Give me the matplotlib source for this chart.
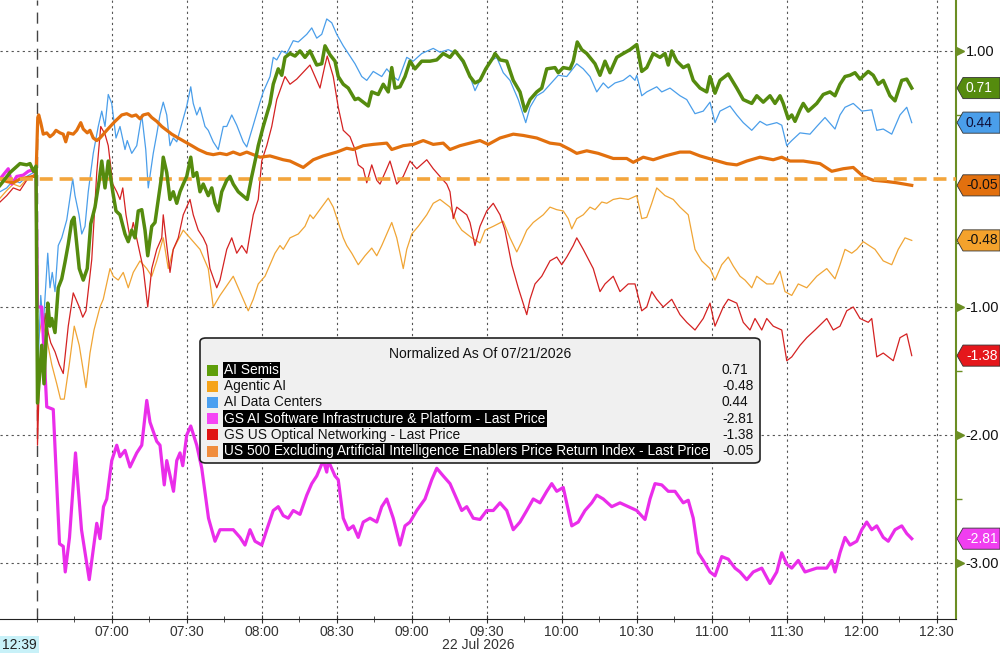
import matplotlib
matplotlib.use("Agg")
import matplotlib.pyplot as plt
import matplotlib.dates as mdates
import matplotlib.transforms as mtransforms
from matplotlib.patches import Polygon, FancyBboxPatch, Rectangle
import pandas as pd

plt.rcParams["font.family"] = ["Liberation Sans", "DejaVu Sans"]

# minutes after the 06:30 open, values normalized as of 07/21/2026
semis_t = [-14.7, -10.7, -6.7, -4, -2.7, -1.3, -0.3, 0.3, 2, 2.9, 4.4, 5.3, 6, 7.3, 8.6, 10, 11.3, 12.6, 14, 14.9,
           17, 18.6, 20.2, 21.6, 23.3, 25, 26, 27.3, 28.6, 30.4, 31.7, 33.3, 35.3, 36.6, 38, 39.3, 40.6, 42, 43.3, 44.4,
           46, 47.3, 48.6, 50, 50.6, 52, 53.3, 54.6, 56, 57.3, 58.6, 60, 61.6, 62.6, 64, 65.3, 66.6, 68.6, 70, 71.3,
           72.6, 74, 76, 77.3, 78.6, 80.6, 84.2, 86, 88, 88.6, 90.6, 93.3, 94.6, 96.6, 98, 99.3, 101.3, 103.3, 105.3,
           107.3, 109.3, 112, 114, 115.3, 117.3, 119.3, 120.6, 122.6, 124.6, 127.3, 128.6, 132.6, 134, 136.6, 138.6,
           140.6, 142, 143.3, 145.3, 147.3, 149.3, 151.3, 154, 157.3, 160, 162.6, 165.3, 167.3, 170.6, 173.3, 175.3,
           177.3, 179.6, 182.6, 183.3, 185.3, 188, 190.6, 193.3, 195.3, 197.3, 200, 202, 204, 207.3, 208.6, 210.6,
           213.3, 214.6, 216.2, 218, 220, 223.3, 225.3, 227.3, 229.3, 232, 234.6, 237.3, 240, 242, 244, 246.6, 249.3,
           251.3, 252.6, 254, 256, 258.6, 260.6, 262.6, 265.3, 268, 269.3, 271.3, 273.3, 276.6, 280, 282.6, 286, 288,
           290.6, 293.3, 295.3, 297.3, 298.6, 300.6, 302, 303.3, 305.3, 306.6, 308.6, 312, 314.6, 317.3, 319.3, 321.3,
           323.3, 325.3, 327.3, 329.3, 332.6, 334.6, 336.6, 338.6, 341.3, 343.3, 346, 348, 350]
semis_v = [-0.05, 0.05, 0.12, 0.11, 0.12, 0.06, 0.1, -1.75, -1.3, -1.6, -0.97, -1.15, -1.09, -1.2, -0.85, -0.78, -0.65,
           -0.51, -0.33, -0.3, -0.7, -0.79, -0.7, -0.35, -0.22, -0.01, 0.14, -0.07, 0.14, -0.1, -0.25, -0.28, -0.43,
           -0.49, -0.4, -0.46, -0.25, -0.24, -0.4, -0.6, -0.37, -0.34, -0.16, 0.03, 0.17, 0.05, -0.16, -0.1, -0.19,
           -0.1, -0.04, 0.02, 0.17, 0.02, 0.05, -0.1, -0.04, -0.13, -0.07, -0.19, -0.25, -0.1, -0.01, 0.02, -0.04,
           -0.1, -0.16, 0.02, 0.2, 0.26, 0.41, 0.59, 0.74, 0.86, 0.81, 0.95, 0.98, 0.96, 1.0, 0.95, 1.0, 0.89, 0.9,
           1.04, 0.97, 0.92, 0.8, 0.74, 0.71, 0.62, 0.63, 0.57, 0.68, 0.66, 0.74, 0.68, 0.87, 0.71, 0.72, 0.8, 0.92,
           0.86, 0.92, 0.92, 0.93, 0.98, 0.95, 1.0, 0.92, 0.8, 0.75, 0.77, 0.86, 0.95, 0.98, 0.93, 0.92, 0.77, 0.68,
           0.53, 0.62, 0.68, 0.71, 0.86, 0.87, 0.83, 0.87, 0.86, 0.92, 1.07, 1.01, 0.98, 0.9, 0.81, 0.92, 0.83, 0.95,
           0.98, 1.01, 1.05, 0.84, 0.87, 0.98, 0.95, 0.98, 0.89, 1.0, 0.92, 0.87, 0.89, 0.77, 0.71, 0.68, 0.8, 0.67,
           0.77, 0.82, 0.71, 0.62, 0.59, 0.65, 0.6, 0.65, 0.59, 0.65, 0.59, 0.47, 0.5, 0.45, 0.54, 0.59, 0.53, 0.59,
           0.66, 0.68, 0.65, 0.74, 0.8, 0.81, 0.83, 0.78, 0.84, 0.81, 0.74, 0.77, 0.65, 0.61, 0.77, 0.78, 0.71]

agentic_t = [-14.7, -12, -9.4, -6.7, -4, -1.3, -0.3, 0.3, 2, 4, 6, 8, 9.5, 11, 13, 15, 17, 19.7, 21.3, 22.9, 25.3,
             26.6, 29.3, 30.6, 32.6, 34.6, 36.6, 38.6, 41.3, 44, 46, 48, 50.6, 52.6, 54.6, 58.6, 62.6, 65.3, 68.6,
             70.6, 73.3, 78.6, 82.6, 84.6, 86.6, 88.6, 91.3, 93.3, 95.3, 97.3, 98.6, 101.3, 104.6, 107.3, 109.3,
             110.6, 114, 116.6, 118.6, 120.6, 122.6, 124, 126, 128.6, 131.3, 134, 136, 138, 140, 142, 144, 145.3,
             146.6, 148, 150, 152.6, 156, 158.6, 161.3, 165.3, 168, 170, 174, 177.3, 179.3, 182.6, 186.6, 189.3, 192,
             194, 196, 198.6, 202.6, 205.3, 208, 210.6, 212.6, 214, 216, 218.6, 221.3, 223.3, 226, 228, 230.6, 233.3,
             236.6, 240, 242, 244, 246, 248, 251.3, 254.6, 257.3, 260.6, 263.3, 266, 269.3, 271.3, 274, 276.6, 278.6,
             281.3, 283.3, 286, 288, 292, 294.6, 297.3, 299.3, 302, 304.6, 308, 312, 316, 319.3, 321.3, 323.3, 326,
             328, 330.6, 335.3, 338.6, 342, 344.6, 347.3, 350]
agentic_v = [-0.15, -0.09, -0.04, -0.06, 0.0, 0.03, 0.03, -1.3, -1.1, -1.25, -1.45, -1.6, -1.72, -1.72, -1.45, -1.15,
             -1.3, -1.63, -1.36, -1.18, -1.0, -0.94, -0.7, -0.76, -0.79, -0.73, -0.85, -0.73, -0.64, -0.7, -0.76,
             -0.64, -0.46, -0.7, -0.55, -0.4, -0.49, -0.55, -0.7, -1.0, -0.91, -0.76, -0.94, -1.03, -0.94, -0.82,
             -0.76, -0.67, -0.58, -0.52, -0.55, -0.46, -0.43, -0.37, -0.28, -0.31, -0.22, -0.15, -0.22, -0.34, -0.46,
             -0.52, -0.58, -0.67, -0.6, -0.54, -0.6, -0.52, -0.43, -0.34, -0.46, -0.58, -0.7, -0.55, -0.43, -0.37,
             -0.28, -0.19, -0.16, -0.22, -0.34, -0.4, -0.46, -0.5, -0.4, -0.37, -0.33, -0.46, -0.57, -0.49, -0.4,
             -0.34, -0.28, -0.22, -0.24, -0.25, -0.31, -0.39, -0.31, -0.28, -0.22, -0.24, -0.18, -0.19, -0.16, -0.15,
             -0.16, -0.13, -0.31, -0.3, -0.19, -0.07, -0.13, -0.16, -0.22, -0.28, -0.55, -0.64, -0.7, -0.79, -0.67,
             -0.61, -0.68, -0.76, -0.79, -0.85, -0.76, -0.82, -0.82, -0.72, -0.88, -0.91, -0.82, -0.85, -0.76, -0.7,
             -0.78, -0.67, -0.55, -0.58, -0.55, -0.49, -0.55, -0.64, -0.67, -0.55, -0.46, -0.48]

centers_t = [-14.7, -12, -9.4, -6.7, -4, -1.3, -0.3, 0.3, 1.6, 2.6, 4.4, 5.3, 6.2, 7.3, 8.6, 10, 12, 14.4, 15.3, 16.9,
             18, 19.3, 20.6, 22.6, 24.6, 26, 27.3, 28.6, 30, 31.7, 33.3, 35.3, 36.2, 38, 40, 42, 43.6, 44.6, 46.6, 48,
             49.3, 50.6, 52, 53.3, 54.6, 56, 58.6, 60, 61.6, 62.6, 64, 65.3, 67.3, 68.6, 70.6, 72.6, 74.6, 76, 78, 80,
             82.6, 84, 86.6, 89.3, 90.6, 93.3, 94.6, 96, 98, 100, 102.6, 104.6, 108, 110, 112, 114, 116, 118, 120,
             122.6, 125.3, 127.3, 130, 132, 134.6, 138, 140, 142.6, 144.6, 148, 150.6, 154, 158.6, 161.3, 164.6, 168,
             170.6, 173.3, 175.3, 177.3, 181.3, 184, 186.6, 189.3, 192.6, 195.6, 197.3, 200, 202.6, 208.6, 212, 216,
             218.6, 221.3, 224, 226.6, 228.6, 231.3, 234.6, 237.3, 239.3, 240, 242, 244, 248, 250, 253.3, 257.3, 260,
             263.3, 266.6, 269.3, 271.3, 273.3, 277.3, 280, 282.6, 286, 289.3, 292, 296, 298, 300, 302, 305.3, 309.3,
             312, 315.3, 319.3, 321.3, 323.3, 326.6, 330, 334, 336, 338.6, 342, 345.3, 348, 350]
centers_v = [-0.1, -0.07, -0.01, -0.03, 0.02, 0.05, 0.05, -1.58, -0.91, -1.15, -0.58, -0.85, -0.73, -0.88, -0.52,
             -0.46, -0.32, 0.0, -0.13, -0.28, -0.43, -0.37, -0.1, 0.2, 0.41, 0.53, 0.41, 0.66, 0.59, 0.32, 0.41, 0.23,
             0.3, 0.2, 0.26, 0.5, 0.23, -0.07, 0.2, 0.35, 0.5, 0.6, 0.5, 0.26, 0.32, 0.29, 0.47, 0.57, 0.72, 0.59, 0.5,
             0.56, 0.41, 0.38, 0.29, 0.23, 0.41, 0.41, 0.5, 0.42, 0.29, 0.25, 0.42, 0.6, 0.68, 0.8, 0.95, 0.93, 1.0,
             0.98, 1.08, 1.07, 1.13, 1.18, 1.1, 1.13, 1.25, 1.22, 1.13, 1.04, 0.96, 0.9, 0.8, 0.77, 0.84, 0.8, 0.86,
             0.8, 0.77, 0.95, 0.92, 0.98, 1.02, 0.99, 1.01, 0.98, 0.9, 0.8, 0.69, 0.77, 0.92, 0.95, 0.83, 0.77, 0.62,
             0.44, 0.56, 0.65, 0.68, 0.81, 0.8, 0.9, 0.86, 0.8, 0.68, 0.75, 0.71, 0.75, 0.77, 0.81, 0.77, 0.81, 0.65,
             0.68, 0.72, 0.68, 0.71, 0.65, 0.62, 0.51, 0.53, 0.6, 0.44, 0.53, 0.57, 0.5, 0.44, 0.38, 0.45, 0.42, 0.44,
             0.42, 0.26, 0.3, 0.36, 0.35, 0.41, 0.48, 0.39, 0.5, 0.56, 0.59, 0.53, 0.54, 0.38, 0.39, 0.35, 0.5, 0.56,
             0.44]

software_t = [-14.7, -11.4, -10, -8, -5.4, -3.4, -2, -0.7, -0.3, 0.3, 2, 4, 6.6, 9.1, 10.6, 11.4, 13.1, 15.5, 17.9,
              21, 24, 25.3, 26.7, 28, 30, 32, 33.3, 35.3, 37.3, 40, 42, 44, 45.3, 48, 49.3, 51, 52, 54.7, 56, 57.3,
              58.4, 60, 61.6, 64, 66, 68.7, 71.3, 73.3, 76, 78.6, 81.3, 83.3, 85.3, 87.3, 90, 92, 94.6, 96.6, 98.6,
              100.6, 102.6, 105.3, 108, 110, 112, 114.6, 116, 116.6, 119.3, 120.6, 122.6, 124.6, 126.6, 128.6, 130.6,
              133.3, 136, 138, 140, 142.6, 145.3, 147.3, 149.3, 152, 155.3, 158, 160, 162.6, 165.3, 168, 170, 172,
              174.6, 177.3, 180, 182.6, 185.3, 188, 190.6, 193.3, 196, 198.6, 201.3, 204, 206, 208, 210.6, 214, 216.6,
              219.3, 222, 224, 226.6, 230, 233.3, 236.6, 240, 243.3, 245.3, 247.3, 250, 252.6, 255.3, 258.6, 260.6,
              262.6, 264.6, 266.6, 269.3, 271.3, 274, 276.6, 279.3, 281.3, 284, 286.6, 290, 293.3, 296, 298, 300, 302,
              304.6, 307.3, 312, 316, 318, 319.3, 321.3, 323.3, 325.3, 328, 330, 332, 334, 336, 338.6, 340.6, 343.3,
              346, 348, 350]
software_v = [0.0, 0.08, -0.04, 0.02, 0.03, 0.06, 0.07, 0.05, 0.05, -1.0, -1.0, -1.78, -1.8, -2.85, -2.87, -3.07,
              -2.8, -2.14, -2.74, -3.13, -2.69, -2.81, -2.56, -2.5, -2.2, -2.08, -2.17, -2.12, -2.25, -2.14, -2.08,
              -1.73, -1.9, -2.05, -2.08, -2.39, -2.2, -2.44, -2.2, -2.14, -2.24, -2.0, -1.93, -2.08, -2.26, -2.65,
              -2.83, -2.74, -2.74, -2.74, -2.8, -2.86, -2.74, -2.83, -2.86, -2.74, -2.59, -2.56, -2.63, -2.65, -2.59,
              -2.62, -2.47, -2.38, -2.32, -2.2, -2.29, -2.2, -2.32, -2.35, -2.65, -2.74, -2.71, -2.8, -2.68, -2.65,
              -2.68, -2.56, -2.5, -2.65, -2.86, -2.71, -2.68, -2.59, -2.5, -2.35, -2.26, -2.32, -2.38, -2.5, -2.59,
              -2.56, -2.65, -2.66, -2.59, -2.59, -2.53, -2.59, -2.74, -2.68, -2.59, -2.5, -2.53, -2.44, -2.38, -2.44,
              -2.41, -2.71, -2.68, -2.59, -2.53, -2.47, -2.5, -2.56, -2.53, -2.56, -2.59, -2.66, -2.5, -2.38, -2.39,
              -2.44, -2.44, -2.53, -2.51, -2.65, -2.92, -2.98, -3.07, -3.1, -2.95, -2.97, -3.04, -3.07, -3.13, -3.07,
              -3.04, -3.16, -3.07, -2.92, -3.01, -3.04, -2.98, -3.07, -3.04, -3.04, -2.98, -3.07, -2.92, -2.8, -2.86,
              -2.83, -2.74, -2.68, -2.74, -2.71, -2.8, -2.83, -2.74, -2.71, -2.77, -2.81]

optical_t = [-14.7, -12, -9.4, -6.7, -4, -1.3, -0.3, 0.3, 1, 3.3, 4.6, 5.6, 7.3, 9, 10.6, 12.6, 14.6, 17, 18.4, 19.7,
             22, 24, 25.6, 27.3, 28.6, 30.4, 32, 33.3, 34.4, 35.7, 37.3, 38.6, 40.6, 42.6, 44.4, 46, 48, 50, 50.6, 52,
             53.3, 54.6, 56.6, 58.6, 61.3, 62.6, 64.6, 66.6, 68, 69.3, 72, 73.3, 76, 78, 80, 82, 84, 86.6, 88.6, 90,
             92, 94, 96, 99.3, 101.3, 104, 109.3, 111.3, 113.3, 115.3, 116.2, 118.6, 120.6, 122.6, 125.3, 127.3, 128.6,
             130.6, 132, 134, 136, 137.3, 140, 141.3, 144, 146.6, 149.3, 152, 156, 158.6, 162.6, 164, 165.3, 166.6,
             168, 172, 173.3, 175.3, 177.3, 180, 182.6, 185.3, 187.3, 190, 192.6, 196, 197.3, 199.3, 202, 205.3, 208,
             210, 212, 214.6, 216, 218.6, 222.6, 225.3, 227.3, 230.6, 233.3, 236.6, 239.3, 242, 244, 246, 248, 250.6,
             254, 257.3, 260, 263.3, 266.6, 269.3, 271.3, 274.6, 276.6, 280, 282.6, 285.3, 287.3, 290, 292, 294.6,
             298, 300, 302, 305.3, 308, 311.3, 316, 318.6, 321.3, 324, 326.6, 329.3, 332.6, 334, 336, 338.6, 342.6,
             345.3, 348, 350]
optical_v = [-0.18, -0.13, -0.07, -0.09, -0.01, 0.03, 0.03, -2.08, -1.6, -1.05, -1.2, -1.28, -1.35, -1.45, -1.52,
             -1.15, -0.89, -1.0, -1.08, -1.03, -0.63, 0.05, 0.41, 0.35, 0.26, -0.04, -0.1, -0.16, -0.07, -0.28, -0.46,
             -0.34, -0.52, -0.7, -1.0, -0.7, -0.55, -0.46, -0.28, -0.52, -0.73, -0.55, -0.46, -0.28, -0.16, -0.28,
             -0.4, -0.46, -0.52, -0.7, -0.85, -0.79, -0.55, -0.46, -0.58, -0.52, -0.58, -0.28, -0.16, 0.14, 0.26, 0.41,
             0.62, 0.8, 0.74, 0.78, 0.89, 0.8, 0.71, 0.89, 0.96, 0.8, 0.56, 0.38, 0.33, 0.23, 0.11, 0.08, -0.03, 0.11,
             -0.01, -0.04, 0.08, 0.14, -0.04, 0.02, 0.14, 0.08, 0.15, 0.08, -0.01, -0.04, -0.1, -0.31, -0.22, -0.28,
             -0.34, -0.52, -0.37, -0.25, -0.19, -0.28, -0.4, -0.67, -0.85, -1.06, -0.94, -0.82, -0.76, -0.64, -0.61,
             -0.67, -0.61, -0.52, -0.46, -0.55, -0.7, -0.88, -0.82, -0.76, -0.88, -0.82, -0.82, -1.03, -1.0, -0.88,
             -0.94, -1.0, -0.94, -1.06, -1.12, -1.18, -1.09, -0.97, -1.15, -1.0, -0.94, -0.97, -1.12, -1.18, -1.09,
             -1.18, -1.09, -1.15, -1.18, -1.42, -1.39, -1.3, -1.24, -1.18, -1.09, -1.18, -1.15, -1.03, -1.0, -1.09,
             -1.12, -1.09, -1.39, -1.36, -1.42, -1.24, -1.21, -1.38]

exai_t = [-14.7, -12, -9.4, -6.7, -4, -1.3, -0.3, 0.4, 0.8, 1.6, 2.6, 4, 5.3, 6.6, 7.7, 9.3, 10.6, 11.6, 12.6, 14.6,
          16, 17.6, 18.6, 20.2, 21.3, 22.6, 24, 25.3, 28, 31.3, 34, 36, 38, 39.7, 41.3, 42.6, 44.6, 46, 48, 50, 52,
          54, 56.6, 59.3, 62, 64.6, 68, 70.6, 73.3, 76, 78.6, 81.3, 84, 86.6, 89.3, 93.3, 98.6, 101.3, 106.6, 110.6,
          114.6, 120, 124, 126.6, 130.6, 134.6, 140, 142, 146.6, 150.6, 154.6, 158.6, 162.6, 165.3, 169.3, 173.3,
          177.3, 180.6, 185.3, 190.6, 194.6, 200, 205.3, 209.3, 213.3, 216, 220, 224.6, 230.6, 236, 238.6, 242.6,
          246.6, 251.3, 257.3, 261.3, 265.3, 270.6, 276, 280, 284, 289.3, 294.6, 298, 301.3, 306.6, 313.3, 318,
          322.6, 326.6, 330.6, 334.6, 340, 344, 350]
exai_v = [0.0, -0.02, -0.03, 0.0, 0.01, 0.02, 0.02, 0.48, 0.5, 0.44, 0.35, 0.36, 0.33, 0.35, 0.38, 0.36, 0.35, 0.29,
          0.36, 0.35, 0.38, 0.44, 0.39, 0.36, 0.38, 0.32, 0.3, 0.32, 0.38, 0.45, 0.5, 0.51, 0.49, 0.5, 0.47, 0.5,
          0.51, 0.48, 0.45, 0.41, 0.38, 0.35, 0.32, 0.29, 0.26, 0.23, 0.2, 0.19, 0.2, 0.19, 0.21, 0.19, 0.21, 0.19,
          0.17, 0.18, 0.15, 0.14, 0.09, 0.15, 0.18, 0.21, 0.24, 0.23, 0.26, 0.27, 0.28, 0.23, 0.26, 0.27, 0.3, 0.27,
          0.28, 0.23, 0.26, 0.28, 0.3, 0.27, 0.32, 0.35, 0.34, 0.32, 0.28, 0.27, 0.23, 0.2, 0.22, 0.2, 0.16, 0.16,
          0.13, 0.17, 0.15, 0.18, 0.21, 0.21, 0.18, 0.15, 0.12, 0.11, 0.14, 0.17, 0.15, 0.17, 0.14, 0.14, 0.12, 0.06,
          0.08, 0.09, 0.02, -0.01, -0.02, -0.03, -0.05]

names = ["AI Semis", "Agentic AI", "AI Data Centers", "GS AI Software Infrastructure & Platform - Last Price",
         "GS US Optical Networking - Last Price",
         "US 500 Excluding Artificial Intelligence Enablers Price Return Index - Last Price"]
last_values = ["0.71", "-0.48", "0.44", "-2.81", "-1.38", "-0.05"]
y_ticks = [1, -1, -2, -3]
y_tick_labels = ["1.00", "-1.00", "-2.00", "-3.00"]

base = pd.Timestamp("2026-07-22 06:30")


def to_time(minutes):
    return base + pd.to_timedelta(minutes, unit="min")


GREEN = "#558B0E"
AGENTIC = "#F0A535"
BLUE = "#4A9EEA"
PINK = "#EA2DEA"
RED = "#D42222"
ORANGE = "#E2700E"
OLIVE = "#6B8E23"

fig = plt.figure(figsize=(10, 6.53), dpi=100)
ax = fig.add_axes([0, 34 / 653, 0.956, 619 / 653])

ax.plot(to_time(agentic_t), agentic_v, color=AGENTIC, lw=0.9, zorder=2)
ax.plot(to_time(optical_t), optical_v, color=RED, lw=0.9, zorder=2)
ax.plot(to_time(centers_t), centers_v, color=BLUE, lw=0.9, zorder=2)
ax.plot(to_time(software_t), software_v, color=PINK, lw=2.3, zorder=3)
ax.plot(to_time(exai_t), exai_v, color=ORANGE, lw=2.3, zorder=3)
ax.axhline(0, color="#F3A53C", lw=2.6, ls=(0, (3.6, 1.9)), zorder=4)
ax.plot(to_time(semis_t), semis_v, color=GREEN, lw=2.5, zorder=5)
ax.axvline(base, color="#444444", lw=1.0, ls=(0, (8, 5)), zorder=1)

ax.set_xlim(to_time(-14.7), to_time(367.7))
ax.set_ylim(-3.4375, 1.398)

for s in ["left", "top"]:
    ax.spines[s].set_visible(False)
ax.spines["right"].set_color(OLIVE)
ax.spines["right"].set_linewidth(1.5)
ax.spines["bottom"].set_color("#222222")

major_times = pd.date_range("2026-07-22 07:00", "2026-07-22 12:30", freq="30min")
minor_times = pd.date_range("2026-07-22 06:30", "2026-07-22 12:30", freq="15min")
ax.set_xticks(major_times)
ax.set_xticks(minor_times, minor=True)
ax.xaxis.set_major_formatter(mdates.DateFormatter("%H:%M"))
ax.tick_params(axis="x", which="major", direction="inout", length=6, color="#333333",
               labelsize=10, labelcolor="#333333", pad=1)
ax.tick_params(axis="x", which="minor", direction="inout", length=5, color="#333333")

ax.yaxis.tick_right()
ax.set_yticks(y_ticks)
ax.set_yticklabels(y_tick_labels)
ax.set_yticks([0.5, -0.5, -1.5, -2.5], minor=True)
ax.tick_params(axis="y", which="major", length=0, pad=7, labelsize=10.5, labelcolor="#111111")
ax.tick_params(axis="y", which="minor", length=4, width=1, color=OLIVE, direction="out")

ax.grid(axis="y", which="major", ls=(0, (2, 3)), color="#555555", lw=0.8)
ax.grid(axis="x", which="major", ls=(0, (2, 3)), color="#555555", lw=0.8)

ytrans = mtransforms.blended_transform_factory(ax.transAxes, ax.transData)
ax.plot([1.0045] * len(y_ticks), y_ticks, ls="none", marker=">", ms=6, color=OLIVE,
        transform=ytrans, clip_on=False)

# value badges on the right axis
btrans = mtransforms.blended_transform_factory(fig.transFigure, ax.transData)
badges = [(0.71, GREEN, "white"), (0.44, "#4A9EEA", "#10103A"), (-0.05, "#E2700E", "#111111"),
          (-0.48, "#F4A22C", "#111111"), (-1.38, "#E5171C", "white"), (-2.81, "#F03EF0", "white")]
h = 0.165
for v, col, tcol in badges:
    pts = [[0.957, v], [0.963, v + h / 2], [1.0, v + h / 2], [1.0, v - h / 2], [0.963, v - h / 2]]
    fig.add_artist(Polygon(pts, closed=True, facecolor=col, edgecolor="#333333", lw=0.6,
                           transform=btrans, clip_on=False, zorder=6))
    fig.text(0.966, v, f"{v:.2f}", transform=btrans, color=tcol, fontsize=10,
             ha="left", va="center", zorder=7)

# legend box
fig.add_artist(FancyBboxPatch((200 / 1000, 1 - 463 / 653), 560 / 1000, 125 / 653,
                              boxstyle="round,pad=0,rounding_size=0.006", facecolor="#F0F0F0",
                              edgecolor="#222222", lw=1.2, transform=fig.transFigure, zorder=6))
fig.text(480 / 1000, 1 - 354 / 653, "Normalized As Of 07/21/2026", ha="center", va="center",
         fontsize=10, color="#111111", zorder=7)
swatches = ["#5E9E0A", "#F5A31A", "#4A9FF0", "#F545F5", "#E01515", "#F08C3C"]
highlight = [True, False, False, True, False, True]
for i, (name, val, sw, hl) in enumerate(zip(names, last_values, swatches, highlight)):
    yy = 1 - (370 + 16.2 * i) / 653
    fig.add_artist(Rectangle((207 / 1000, yy - 5.5 / 653), 11 / 1000, 11 / 653, facecolor=sw,
                             edgecolor="none", transform=fig.transFigure, zorder=7))
    if hl:
        fig.text(224 / 1000, yy, name, ha="left", va="center", fontsize=9.9, color="white", zorder=8,
                 bbox=dict(facecolor="black", edgecolor="none", pad=1.0))
    else:
        fig.text(224 / 1000, yy, name, ha="left", va="center", fontsize=9.9, color="#111111", zorder=8)
    fig.text(722 / 1000, yy, val, ha="left", va="center", fontsize=9.9, color="#111111", zorder=8)

fig.text(478 / 1000, 1 - 645 / 653, "22 Jul 2026", ha="center", va="center", fontsize=10, color="#333333")
fig.text(2 / 1000, 1 - 645 / 653, "12:39", ha="left", va="center", fontsize=10, color="#222222",
         bbox=dict(facecolor="#C8F1F8", edgecolor="none", pad=1.5))

fig.savefig("out.png", dpi=100)
plt.close(fig)
